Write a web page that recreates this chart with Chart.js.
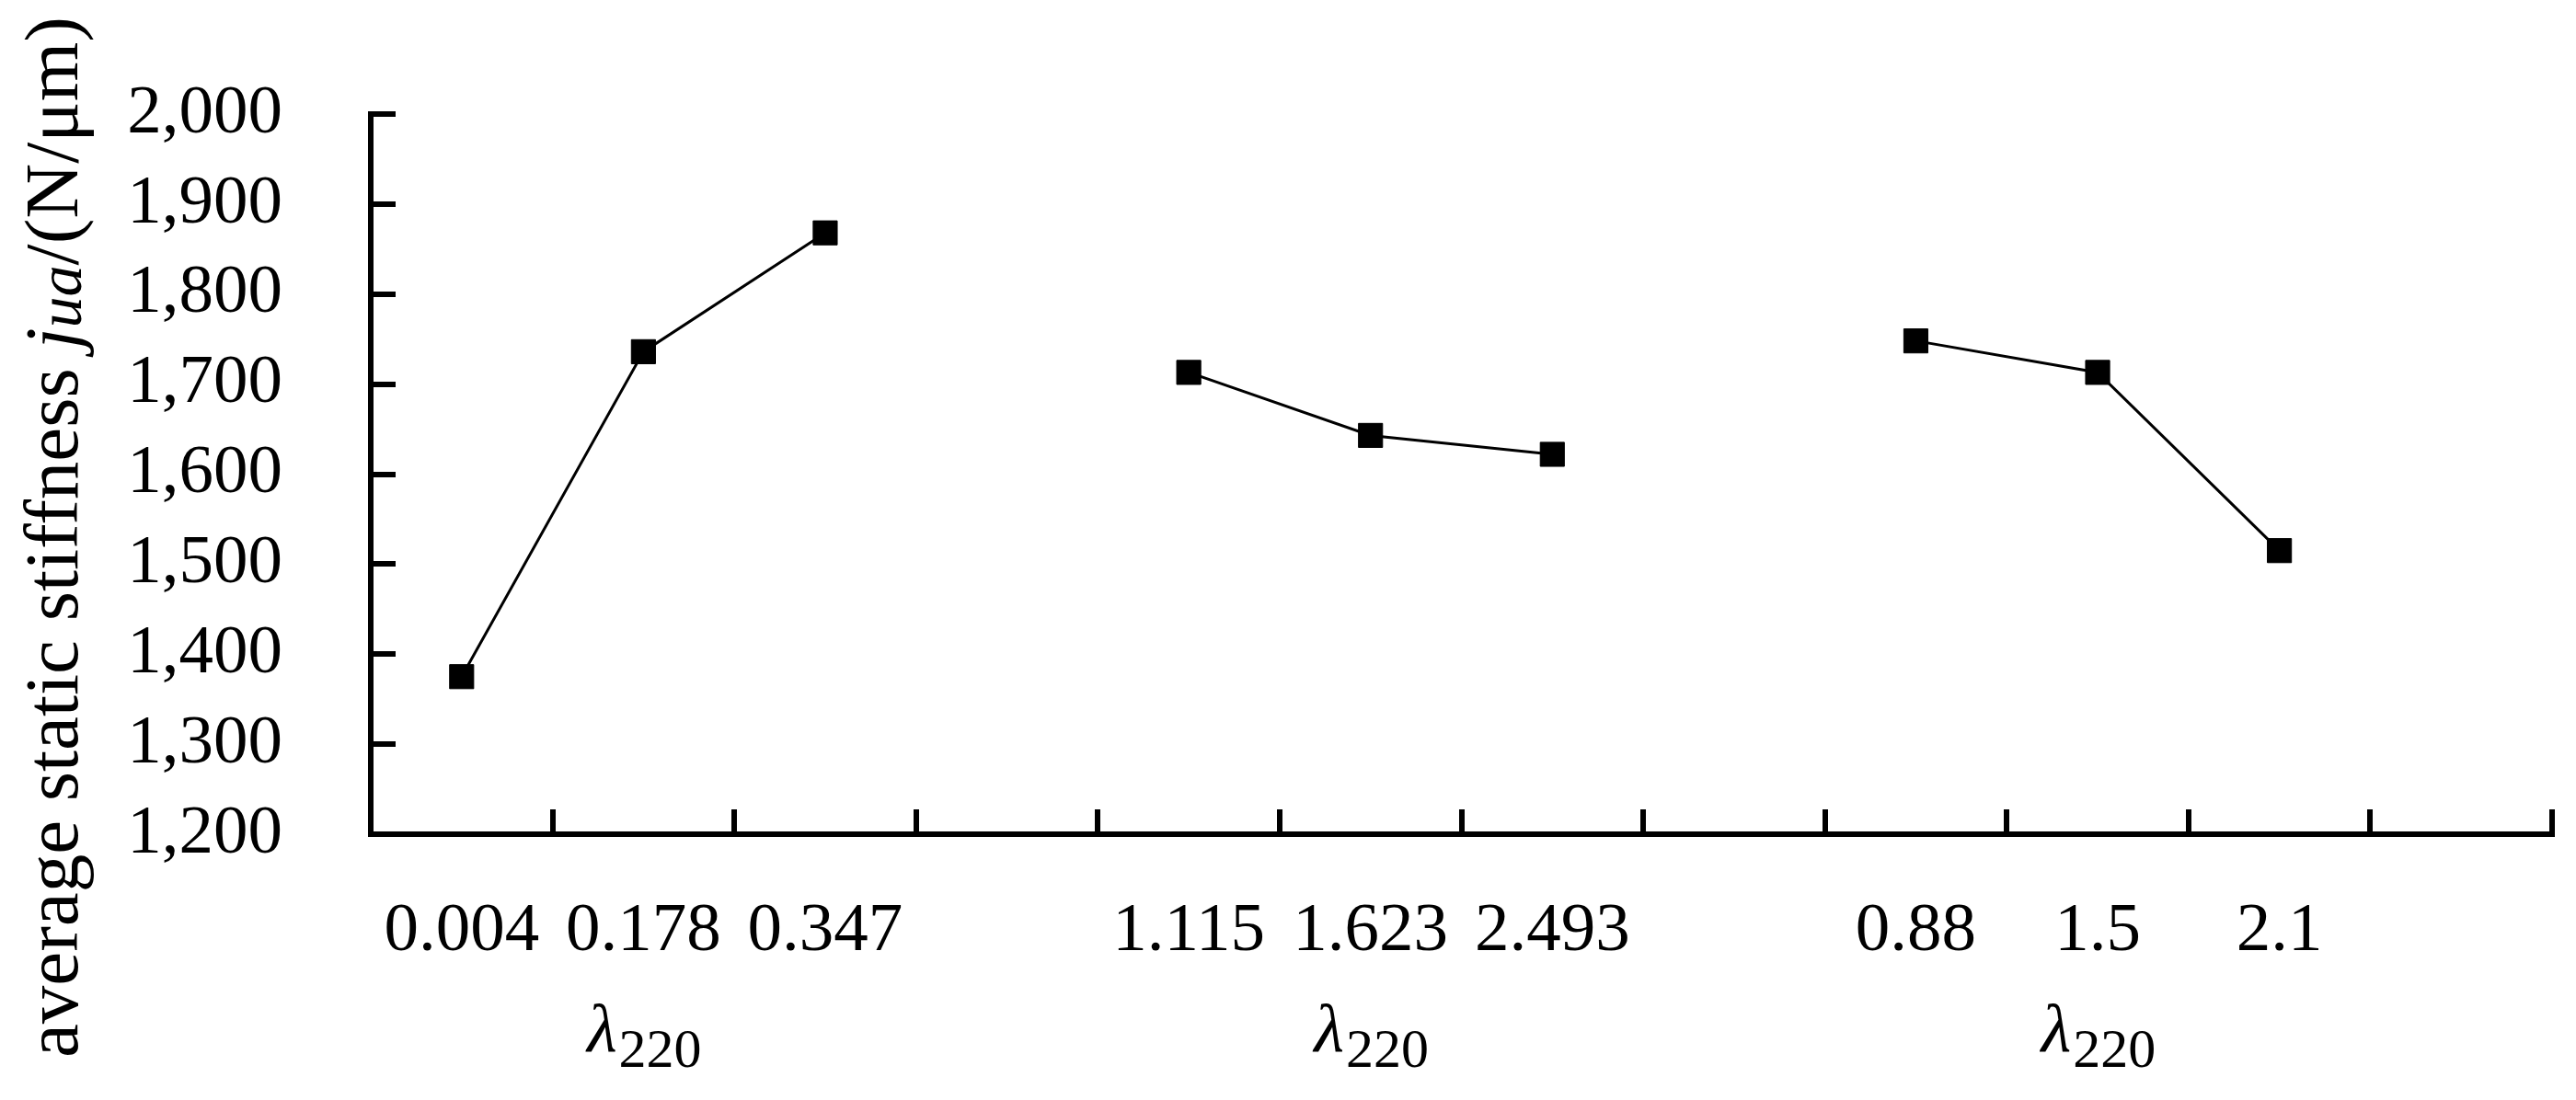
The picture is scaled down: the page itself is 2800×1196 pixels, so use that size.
<!DOCTYPE html>
<html lang="en">
<head>
    <meta charset="UTF-8">
    <title>Average static stiffness vs λ220</title>
    <script src="https://cdn.jsdelivr.net/npm/chart.js"></script>
    <style>
        body { margin: 0; background: #fff; }
        canvas { display: block; }
    </style>
</head>
<body>
    <canvas id="stiffnessChart" width="2800" height="1196"></canvas>

    <script>
        // categories along the x axis (empty slot closes each group)
        const xLabels = ['0.004', '0.178', '0.347', '', '1.115', '1.623', '2.493', '', '0.88', '1.5', '2.1', ''];
        // average static stiffness, N/μm (null = gap between groups)
        const stiffness = [1375, 1736, 1868, null, 1713, 1643, 1622, null, 1748, 1713, 1515, null];
        // y axis range and step
        const yMin = 1200;
        const yMax = 2000;
        const yStep = 100;
        // group caption λ220 sits under these categories
        const groupCaptionAt = [1, 5, 9];
        const groupSymbol = 'λ';
        const groupSub = '220';
        // y axis title pieces
        const yTitleMain = 'average static stiffness ';
        const yTitleVar = 'j';
        const yTitleSub = 'ua';
        const yTitleUnit = '/(N/μm)';

        const FONT = "'Liberation Serif', 'DejaVu Serif', serif";

        // draws the λ220 captions and the mixed-style y axis title
        const captionPlugin = {
            id: 'captions',
            afterDraw(chart) {
                const ctx = chart.ctx;
                const xScale = chart.scales.x;
                ctx.save();
                ctx.fillStyle = '#000';
                ctx.textBaseline = 'alphabetic';

                groupCaptionAt.forEach(i => {
                    const cx = xScale.getPixelForValue(i);
                    ctx.font = 'italic 75px ' + FONT;
                    const wSym = ctx.measureText(groupSymbol).width;
                    ctx.font = '60px ' + FONT;
                    const wSub = ctx.measureText(groupSub).width;
                    const left = cx - (wSym + wSub) / 2;
                    ctx.font = 'italic 75px ' + FONT;
                    ctx.textAlign = 'left';
                    ctx.fillText(groupSymbol, left, 1143);
                    ctx.font = '60px ' + FONT;
                    ctx.fillText(groupSub, left + wSym + 2, 1160);
                });

                // y axis title, rotated
                const parts = [
                    { t: yTitleMain, f: '83px ' + FONT, dy: 0 },
                    { t: yTitleVar, f: 'italic 83px ' + FONT, dy: 0 },
                    { t: yTitleSub, f: 'italic 68px ' + FONT, dy: 4 },
                    { t: yTitleUnit, f: '83px ' + FONT, dy: 0 }
                ];
                let total = 0;
                parts.forEach(p => { ctx.font = p.f; p.w = ctx.measureText(p.t).width; total += p.w; });
                ctx.translate(84, 584 + total / 2);
                ctx.rotate(-Math.PI / 2);
                let pos = 0;
                parts.forEach(p => {
                    ctx.font = p.f;
                    ctx.textAlign = 'left';
                    ctx.fillText(p.t, pos, p.dy);
                    pos += p.w;
                });
                ctx.restore();
            }
        };

        const ctx = document.getElementById('stiffnessChart').getContext('2d');

        new Chart(ctx, {
            type: 'line',
            data: {
                labels: xLabels,
                datasets: [{
                    data: stiffness,
                    borderColor: '#000',
                    borderWidth: 3,
                    backgroundColor: '#000',
                    pointStyle: 'rect',
                    pointRadius: 18.5,
                    pointBorderWidth: 1,
                    pointBackgroundColor: '#000',
                    pointBorderColor: '#000',
                    spanGaps: false,
                    tension: 0
                }]
            },
            options: {
                responsive: false,
                animation: false,
                layout: { padding: { top: 124, right: 26, left: 0, bottom: 0 } },
                plugins: {
                    legend: { display: false },
                    tooltip: { enabled: false }
                },
                scales: {
                    x: {
                        offset: true,
                        afterFit: s => { s.height = 289; s.paddingLeft = 0; s.paddingRight = 0; },
                        grid: {
                            offset: true,
                            drawOnChartArea: false,
                            drawTicks: true,
                            tickLength: -27,
                            lineWidth: 6,
                            color: '#000'
                        },
                        border: { display: true, width: 6, color: '#000' },
                        ticks: {
                            autoSkip: false,
                            maxRotation: 0,
                            padding: 88,
                            color: '#000',
                            font: { family: FONT, size: 75 }
                        }
                    },
                    y: {
                        min: yMin,
                        max: yMax,
                        afterFit: s => { s.width = 403; s.paddingTop = 0; s.paddingBottom = 0; },
                        grid: {
                            drawOnChartArea: false,
                            drawTicks: true,
                            tickLength: -27,
                            lineWidth: 6,
                            color: '#000'
                        },
                        border: { display: true, width: 6, color: '#000' },
                        ticks: {
                            stepSize: yStep,
                            autoSkip: false,
                            padding: 123,
                            color: '#000',
                            font: { family: FONT, size: 75 }
                        }
                    }
                }
            },
            plugins: [captionPlugin]
        });
    </script>
</body>
</html>
